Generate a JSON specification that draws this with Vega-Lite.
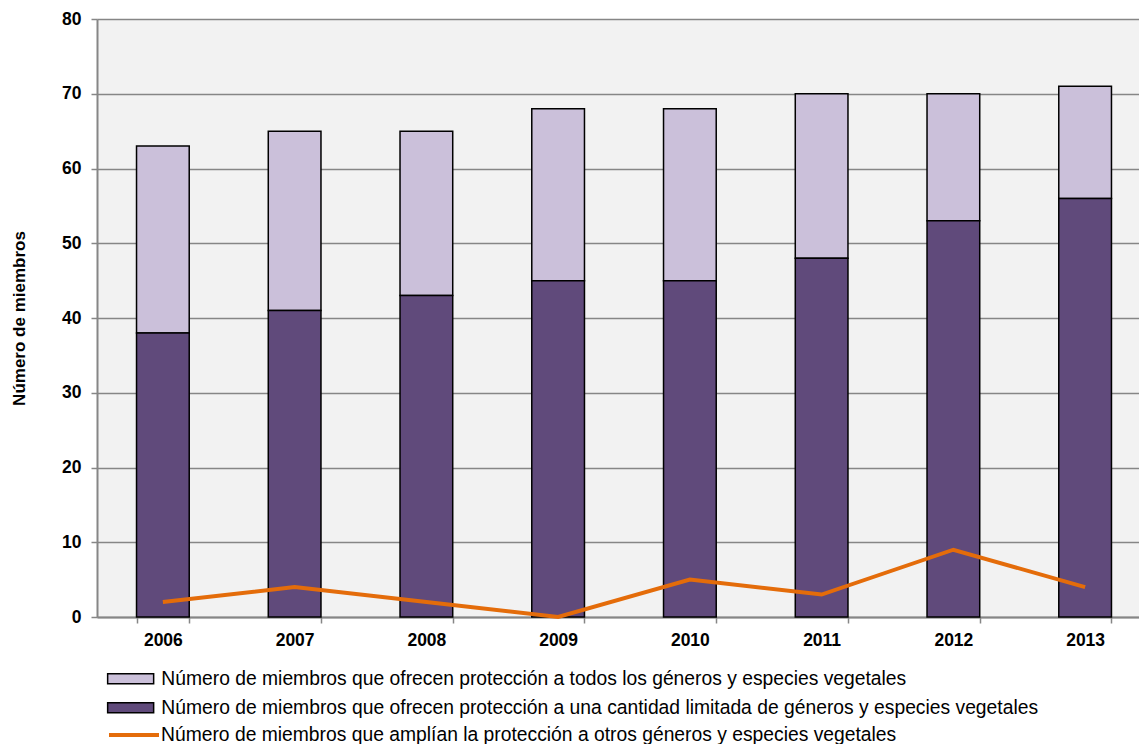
{
  "$schema": "https://vega.github.io/schema/vega-lite/v6.json",
  "width": 1042,
  "height": 598,
  "autosize": {"type": "none"},
  "padding": {"left": 97, "top": 19, "right": 0, "bottom": 127},
  "background": "white",
  "config": {
    "font": "Liberation Sans",
    "view": {"fill": "#f2f2f2", "stroke": null}
  },
  "datasets": {
    "bars": [
      {"year": "2006", "serie": "Número de miembros que ofrecen protección a todos los géneros y especies vegetales", "value": 25},
      {"year": "2006", "serie": "Número de miembros que ofrecen protección a una cantidad limitada de géneros y especies vegetales", "value": 38},
      {"year": "2007", "serie": "Número de miembros que ofrecen protección a todos los géneros y especies vegetales", "value": 24},
      {"year": "2007", "serie": "Número de miembros que ofrecen protección a una cantidad limitada de géneros y especies vegetales", "value": 41},
      {"year": "2008", "serie": "Número de miembros que ofrecen protección a todos los géneros y especies vegetales", "value": 22},
      {"year": "2008", "serie": "Número de miembros que ofrecen protección a una cantidad limitada de géneros y especies vegetales", "value": 43},
      {"year": "2009", "serie": "Número de miembros que ofrecen protección a todos los géneros y especies vegetales", "value": 23},
      {"year": "2009", "serie": "Número de miembros que ofrecen protección a una cantidad limitada de géneros y especies vegetales", "value": 45},
      {"year": "2010", "serie": "Número de miembros que ofrecen protección a todos los géneros y especies vegetales", "value": 23},
      {"year": "2010", "serie": "Número de miembros que ofrecen protección a una cantidad limitada de géneros y especies vegetales", "value": 45},
      {"year": "2011", "serie": "Número de miembros que ofrecen protección a todos los géneros y especies vegetales", "value": 22},
      {"year": "2011", "serie": "Número de miembros que ofrecen protección a una cantidad limitada de géneros y especies vegetales", "value": 48},
      {"year": "2012", "serie": "Número de miembros que ofrecen protección a todos los géneros y especies vegetales", "value": 17},
      {"year": "2012", "serie": "Número de miembros que ofrecen protección a una cantidad limitada de géneros y especies vegetales", "value": 53},
      {"year": "2013", "serie": "Número de miembros que ofrecen protección a todos los géneros y especies vegetales", "value": 15},
      {"year": "2013", "serie": "Número de miembros que ofrecen protección a una cantidad limitada de géneros y especies vegetales", "value": 56}
    ],
    "line": [
      {"year": "2006", "serie": "Número de miembros que amplían la protección a otros géneros y especies vegetales", "value": 2},
      {"year": "2007", "serie": "Número de miembros que amplían la protección a otros géneros y especies vegetales", "value": 4},
      {"year": "2008", "serie": "Número de miembros que amplían la protección a otros géneros y especies vegetales", "value": 2},
      {"year": "2009", "serie": "Número de miembros que amplían la protección a otros géneros y especies vegetales", "value": 0},
      {"year": "2010", "serie": "Número de miembros que amplían la protección a otros géneros y especies vegetales", "value": 5},
      {"year": "2011", "serie": "Número de miembros que amplían la protección a otros géneros y especies vegetales", "value": 3},
      {"year": "2012", "serie": "Número de miembros que amplían la protección a otros géneros y especies vegetales", "value": 9},
      {"year": "2013", "serie": "Número de miembros que amplían la protección a otros géneros y especies vegetales", "value": 4}
    ]
  },
  "encoding": {
    "x": {
      "field": "year", "type": "ordinal",
      "scale": {"paddingInner": 0.6, "paddingOuter": 0.3, "range": [0, 1054]},
      "axis": {
        "title": null, "labelAngle": 0, "labelFontSize": 17.5, "labelFontWeight": "bold",
        "labelColor": "black", "labelPadding": 8, "tickBand": "extent",
        "domainColor": "#868686", "domainWidth": 2, "tickColor": "#868686", "tickSize": 6, "tickWidth": 1.5
      }
    },
    "y": {
      "field": "value", "type": "quantitative",
      "scale": {"domain": [0, 80], "nice": false},
      "axis": {
        "title": "Número de miembros", "titleFontSize": 17, "titleFontWeight": "bold", "titleColor": "black",
        "titlePadding": 33,
        "values": [0, 10, 20, 30, 40, 50, 60, 70, 80],
        "labelFontSize": 17.5, "labelFontWeight": "bold", "labelColor": "black", "labelPadding": 10,
        "domainColor": "#868686", "domainWidth": 2, "tickColor": "#868686", "tickSize": 6, "tickWidth": 1.5,
        "gridColor": "#868686", "gridWidth": 1.5
      }
    }
  },
  "layer": [
    {
      "data": {"name": "bars"},
      "mark": {"type": "bar", "stroke": "black", "strokeWidth": 1.5},
      "encoding": {
        "y": {"field": "value", "type": "quantitative", "stack": "zero"},
        "order": {"field": "serie", "sort": "descending"},
        "fill": {
          "field": "serie", "type": "nominal",
          "scale": {
            "domain": ["Número de miembros que ofrecen protección a todos los géneros y especies vegetales", "Número de miembros que ofrecen protección a una cantidad limitada de géneros y especies vegetales"],
            "range": ["#cbc0da", "#604a7b"]
          },
          "legend": {
            "title": null, "orient": "none", "legendX": 24, "legendY": 650,
            "direction": "vertical",
            "symbolType": "M-4.6,-1H4.6V1H-4.6Z", "symbolSize": 100,
            "symbolStrokeColor": "black", "symbolStrokeWidth": 1.5,
            "labelFontSize": 19.3, "labelColor": "black", "labelLimit": 1000, "labelOffset": 21,
            "rowPadding": 9
          }
        }
      }
    },
    {
      "data": {"name": "line"},
      "mark": {"type": "line", "strokeWidth": 4},
      "encoding": {
        "stroke": {
          "field": "serie", "type": "nominal",
          "scale": {"range": ["#e46c0a"]},
          "legend": {
            "title": null, "orient": "none", "legendX": 10, "legendY": 689,
            "symbolType": "stroke", "symbolSize": 2500, "symbolStrokeWidth": 4,
            "labelFontSize": 19.3, "labelColor": "black", "labelLimit": 1000, "labelOffset": 0
          }
        }
      }
    }
  ]
}
